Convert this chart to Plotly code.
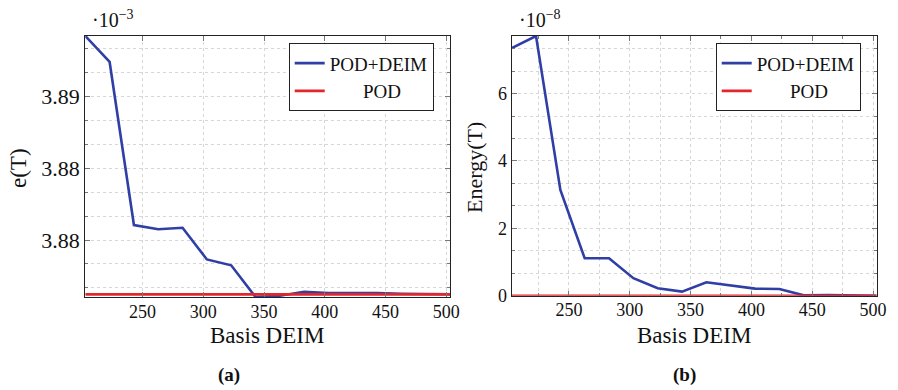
import plotly.graph_objects as go

# Data
basis = [203, 223, 243, 263, 283, 303, 323, 343, 363, 383, 403, 423, 443, 463, 483, 503]
# e(T) in units of 1e-3
err_pod_deim = [3.89423, 3.89242, 3.88105, 3.88075, 3.88086, 3.87865, 3.87824, 3.87603,
                3.87612, 3.87640, 3.87630, 3.87632, 3.87630, 3.87626, 3.87623, 3.87622]
err_pod = [3.87621] * len(basis)
# Energy(T) in units of 1e-8
en_pod_deim = [7.35, 7.71, 3.14, 1.11, 1.11, 0.52, 0.22, 0.12,
               0.40, 0.30, 0.21, 0.20, 0.01, 0.02, 0.01, 0.0]
en_pod = [0.0] * len(basis)

left_yticks = [3.88, 3.885, 3.89]
left_yticktext = ["3.88", "3.88", "3.89"]
right_yticks = [0, 2, 4, 6]
xticks = [250, 300, 350, 400, 450, 500]

BLUE = "#2f3fa6"
RED = "#e3262a"
FONT = "Liberation Serif, Times New Roman, DejaVu Serif, serif"
W, H = 898, 390
POD_LABEL = "\u00a0\u00a0\u00a0\u00a0\u00a0\u00a0\u00a0POD"

fig = go.Figure()
fig.add_trace(go.Scatter(x=basis, y=err_pod_deim, mode="lines", name="POD+DEIM",
                         line=dict(color=BLUE, width=2.6), xaxis="x", yaxis="y", legend="legend"))
fig.add_trace(go.Scatter(x=basis, y=err_pod, mode="lines", name=POD_LABEL,
                         line=dict(color=RED, width=2.6), xaxis="x", yaxis="y", legend="legend"))
fig.add_trace(go.Scatter(x=basis, y=en_pod_deim, mode="lines", name="POD+DEIM",
                         line=dict(color=BLUE, width=2.6), xaxis="x2", yaxis="y2", legend="legend2"))
fig.add_trace(go.Scatter(x=basis, y=en_pod, mode="lines", name=POD_LABEL,
                         line=dict(color=RED, width=2.6), xaxis="x2", yaxis="y2", legend="legend2"))

gridc = "#d6d6d6"
axcommon = dict(showline=True, linecolor="#222222", linewidth=1.2, mirror="allticks",
                ticks="inside", ticklen=5, tickcolor="#777777", tickwidth=1, automargin=False,
                showgrid=True, gridcolor=gridc, griddash="dot", gridwidth=1, zeroline=False)

yb = 1 - 297 / H
yt = 1 - 36 / H
legcommon = dict(xanchor="left", yanchor="top", bgcolor="white", bordercolor="#222222",
                 borderwidth=1, font=dict(family=FONT, size=19, color="#111111"),
                 tracegroupgap=0, itemwidth=30)
fig.update_layout(
    width=W, height=H, margin=dict(l=0, r=0, t=0, b=0, autoexpand=False),
    paper_bgcolor="white", plot_bgcolor="white",
    font=dict(family=FONT, color="#111111"),
    xaxis=dict(domain=[85.3 / W, 450 / W], range=[basis[0], basis[-1]], anchor="y",
               tickmode="array", tickvals=xticks, tickfont=dict(family=FONT, size=18),
               ticklabelstandoff=-2, **axcommon),
    yaxis=dict(domain=[yb, yt], range=[min(err_pod_deim), max(err_pod_deim)], anchor="x",
               tickmode="array", tickvals=left_yticks, ticktext=left_yticktext,
               tickfont=dict(family=FONT, size=22),
               minor=dict(tick0=3.88, dtick=0.005 / 3, ticks="inside", ticklen=3,
                          tickcolor="#777777", showgrid=True, gridcolor=gridc, griddash="dot"),
               **axcommon),
    xaxis2=dict(domain=[511.7 / W, 876.7 / W], range=[basis[0], basis[-1]], anchor="y2",
                tickmode="array", tickvals=xticks, tickfont=dict(family=FONT, size=18),
                ticklabelstandoff=-2,
                minor=dict(tick0=0, dtick=25, ticks="inside", ticklen=3,
                           tickcolor="#777777", showgrid=True, gridcolor=gridc, griddash="dot"),
                **axcommon),
    yaxis2=dict(domain=[1 - 295.7 / H, yt], range=[0, max(en_pod_deim)], anchor="x2",
                tickmode="array", tickvals=right_yticks, tickfont=dict(family=FONT, size=18),
                minor=dict(tick0=0, dtick=2 / 3, ticks="inside", ticklen=3,
                           tickcolor="#777777", showgrid=True, gridcolor=gridc, griddash="dot"),
                **axcommon),
    legend=dict(x=288.7 / W, y=1 - 43.3 / H, **legcommon),
    legend2=dict(x=715.7 / W, y=1 - 43.3 / H, **legcommon),
)

ann = [
    dict(text="\u00b710<sup>\u22123</sup>", x=90 / W, y=1 - 19 / H, xanchor="left", yanchor="middle",
         font=dict(family=FONT, size=20)),
    dict(text="\u00b710<sup>\u22128</sup>", x=517 / W, y=1 - 19 / H, xanchor="left", yanchor="middle",
         font=dict(family=FONT, size=20)),
    dict(text="e(T)", x=18 / W, y=1 - 168 / H, textangle=-90, xanchor="center", yanchor="middle",
         font=dict(family=FONT, size=23)),
    dict(text="Energy(T)", x=474 / W, y=1 - 167 / H, textangle=-90, xanchor="center", yanchor="middle",
         font=dict(family=FONT, size=22)),
    dict(text="Basis DEIM", x=267 / W, y=1 - 335 / H, xanchor="center", yanchor="middle",
         font=dict(family=FONT, size=23)),
    dict(text="Basis DEIM", x=694 / W, y=1 - 335 / H, xanchor="center", yanchor="middle",
         font=dict(family=FONT, size=23)),
    dict(text="<b>(a)</b>", x=229 / W, y=1 - 375 / H, xanchor="center", yanchor="middle",
         font=dict(family=FONT, size=19)),
    dict(text="<b>(b)</b>", x=684 / W, y=1 - 375 / H, xanchor="center", yanchor="middle",
         font=dict(family=FONT, size=19)),
]
for a in ann:
    a.update(xref="paper", yref="paper", showarrow=False)
    fig.add_annotation(**a)

fig.write_html("out.html")
